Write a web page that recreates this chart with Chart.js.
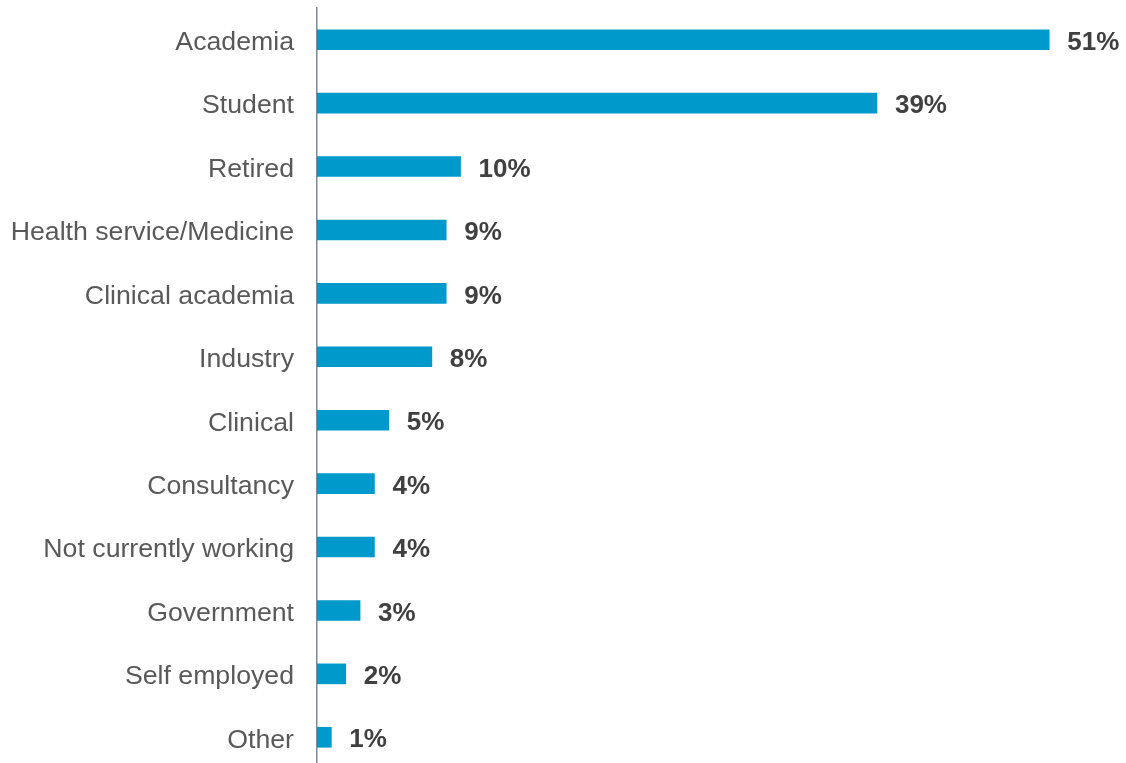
<!DOCTYPE html>
<html>
<head>
<meta charset="utf-8">
<title>Occupation</title>
<script src="https://cdn.jsdelivr.net/npm/chart.js@4/dist/chart.umd.min.js"></script>
<style>
  html, body { margin: 0; padding: 0; background: #fff; overflow: hidden; }
  canvas { display: block; }
</style>
</head>
<body>
<canvas id="occupation-chart" width="1126" height="770"></canvas>
<script>
const categories = [
  'Academia', 'Student', 'Retired', 'Health service/Medicine', 'Clinical academia',
  'Industry', 'Clinical', 'Consultancy', 'Not currently working', 'Government',
  'Self employed', 'Other'
];
const percentages = [51, 39, 10, 9, 9, 8, 5, 4, 4, 3, 2, 1];

const FONT = '"Liberation Sans", Arial, sans-serif';

// writes the percentage just past the end of each bar
const valueLabels = {
  id: 'valueLabels',
  afterDatasetsDraw(chart) {
    const ctx = chart.ctx;
    const meta = chart.getDatasetMeta(0);
    ctx.save();
    ctx.font = 'bold 26px ' + FONT;
    ctx.fillStyle = '#404040';
    ctx.textAlign = 'left';
    ctx.textBaseline = 'middle';
    meta.data.forEach((bar, i) => {
      ctx.fillText(percentages[i] + '%', bar.x + 18, bar.y + 3);
    });
    ctx.restore();
  }
};

const ctx = document.getElementById('occupation-chart').getContext('2d');
new Chart(ctx, {
  type: 'bar',
  data: {
    labels: categories,
    datasets: [{
      data: percentages,
      backgroundColor: '#0099CC',
      barThickness: 20,
      borderWidth: 0
    }]
  },
  options: {
    indexAxis: 'y',
    responsive: false,
    animation: false,
    layout: { padding: { top: 8, right: 5, bottom: 1, left: 0 } },
    plugins: {
      legend: { display: false },
      tooltip: { enabled: false }
    },
    scales: {
      x: {
        display: false,
        min: 0,
        max: 56
      },
      y: {
        afterFit: (scale) => {
          // fixed label column, and no extra room above/below the rows
          scale.width = 317;
          scale.paddingTop = 0;
          scale.paddingBottom = 0;
        },
        grid: { display: false, drawTicks: false },
        border: { display: true, color: '#7b8a99', width: 1.5 },
        ticks: {
          padding: 23,
          labelOffset: 3,
          color: '#595959',
          font: { family: FONT, size: 26.7 }
        }
      }
    }
  },
  plugins: [valueLabels]
});
</script>
</body>
</html>
